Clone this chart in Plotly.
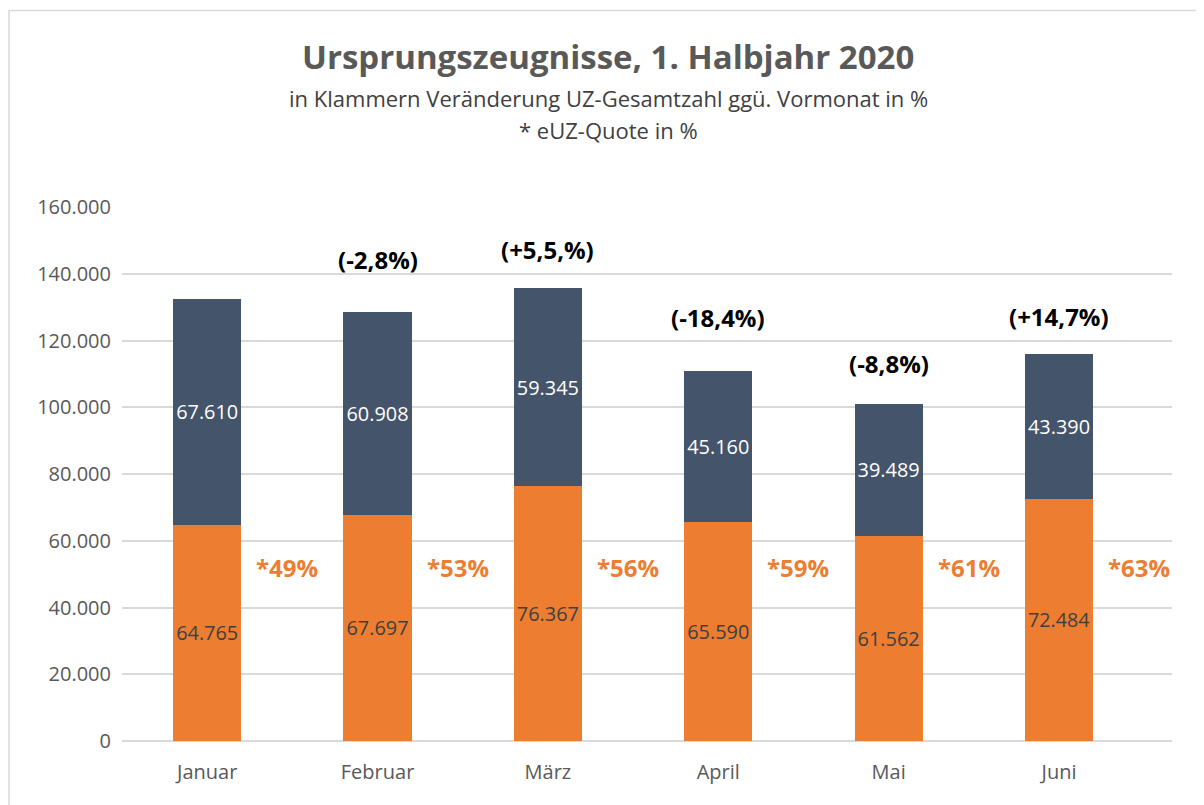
import plotly.graph_objects as go

months = ["Januar", "Februar", "März", "April", "Mai", "Juni"]
euz = [64765, 67697, 76367, 65590, 61562, 72484]
papier = [67610, 60908, 59345, 45160, 39489, 43390]
euz_quote = ["*49%", "*53%", "*56%", "*59%", "*61%", "*63%"]
change_labels = [None, "(-2,8%)", "(+5,5,%)", "(-18,4%)", "(-8,8%)", "(+14,7%)"]
change_label_y = [None, 144200, 147200, 126800, 113000, 127100]
quote_label_y = 52000
y_ticks = [0, 20000, 40000, 60000, 80000, 100000, 120000, 140000, 160000]

ORANGE = "#ED7D31"
BLUE = "#44546A"
FONT = "Open Sans"

fig = go.Figure()
fig.add_trace(go.Bar(
    x=months, y=euz, name="eUZ", marker=dict(color=ORANGE, line=dict(width=0)),
    texttemplate="%{y:,d}", textposition="inside", insidetextanchor="middle",
    textangle=0, insidetextfont=dict(family=FONT, size=20, color="#404040"),
    width=0.4,
))
fig.add_trace(go.Bar(
    x=months, y=papier, name="Papier", marker=dict(color=BLUE, line=dict(width=0)),
    texttemplate="%{y:,d}", textposition="inside", insidetextanchor="middle",
    textangle=0, insidetextfont=dict(family=FONT, size=20, color="white"),
    width=0.4,
))

annotations = []
for m, q in zip(months, euz_quote):
    annotations.append(dict(x=m, y=quote_label_y, text=q, showarrow=False, xshift=80,
                            font=dict(family=FONT, size=24, color=ORANGE, weight="bold")))
for m, c, cy in zip(months, change_labels, change_label_y):
    if c:
        annotations.append(dict(x=m, y=cy, text=c, showarrow=False,
                                font=dict(family=FONT, size=24, color="black", weight="bold")))

# screen pixel -> paper coordinates (plot area: y=1 at px 207, y=0 at px 741; x=0 at 122, x=1 at 1172)
def py(px):
    return (741 - px) / 534.0

def px_x(px):
    return (px - 122) / 1050.0

annotations.append(dict(xref="paper", yref="paper", x=px_x(608), y=py(56), xanchor="center", yanchor="middle",
                        text="<b>Ursprungszeugnisse, 1. Halbjahr 2020</b>",
                        showarrow=False, font=dict(family=FONT, size=33, color="#595959")))
annotations.append(dict(xref="paper", yref="paper", x=px_x(608), y=py(98), xanchor="center", yanchor="middle",
                        text="in Klammern Veränderung UZ-Gesamtzahl ggü. Vormonat in %",
                        showarrow=False, font=dict(family=FONT, size=22, color="#404040")))
annotations.append(dict(xref="paper", yref="paper", x=px_x(608), y=py(130), xanchor="center", yanchor="middle",
                        text="* eUZ-Quote in %",
                        showarrow=False, font=dict(family=FONT, size=22, color="#404040")))

fig.update_layout(
    barmode="stack",
    width=1196, height=797,
    margin=dict(l=114, r=32, t=199, b=64),
    paper_bgcolor="white", plot_bgcolor="white",
    showlegend=False,
    separators=",.",
    font=dict(family=FONT, color="#595959"),
    annotations=annotations,
    xaxis=dict(showline=False, ticks="", tickfont=dict(size=20, color="#595959"), showgrid=False),
    yaxis=dict(range=[0, 160000], tickvals=y_ticks, tickformat=",d", showgrid=True,
               gridcolor="#D9D9D9", gridwidth=1.5, zeroline=True, zerolinecolor="#D9D9D9",
               zerolinewidth=1.5, ticks="", ticklen=0, tickfont=dict(size=20, color="#595959"),
               showline=False),
    shapes=[dict(type="rect", xref="paper", yref="paper", x0=px_x(9), x1=px_x(1230), y0=py(830), y1=py(10.5),
                 line=dict(color="#D9D9D9", width=1.5), fillcolor="rgba(0,0,0,0)", layer="below")],
)
fig.update_xaxes(ticklabelstandoff=17)
fig.update_yaxes(ticklabelstandoff=10)

fig.write_html("out.html")
